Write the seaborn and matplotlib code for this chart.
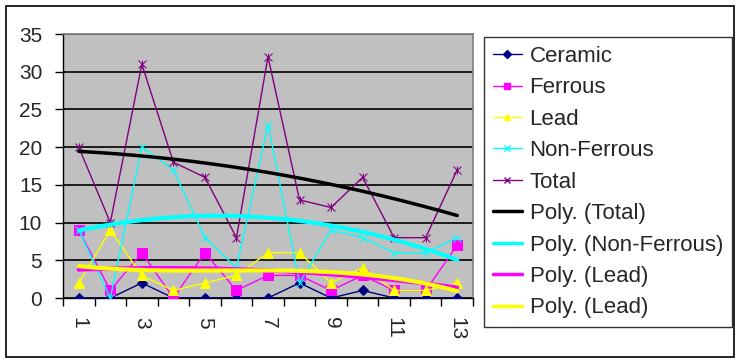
import numpy as np
import pandas as pd
import seaborn as sns
import matplotlib
matplotlib.use("Agg")
import matplotlib.pyplot as plt
from matplotlib.lines import Line2D
from matplotlib.patches import Rectangle

# ---- data ----
categories = list(range(1, 14))
ceramic = [0, 0, 2, 0, 0, 0, 0, 2, 0, 1, 0, 0, 0]
ferrous = [9, 1, 6, 0, 6, 1, 3, 3, 1, 3, 1, 1, 7]
lead = [2, 9, 3, 1, 2, 3, 6, 6, 2, 4, 1, 1, 2]
non_ferrous = [9, 0, 20, 17, 8, 4, 23, 2, 9, 8, 6, 6, 8]
total = [20, 10, 31, 18, 16, 8, 32, 13, 12, 16, 8, 8, 17]
y_ticks = [0, 5, 10, 15, 20, 25, 30, 35]
x_tick_labels = ["1", "3", "5", "7", "9", "11", "13"]

sns.set_theme(style="white")
plt.rcParams["font.family"] = ["Liberation Sans", "DejaVu Sans"]

fig = plt.figure(figsize=(7.4, 3.62), dpi=100)
W, H = 740, 362
ax = fig.add_axes([63 / W, 1 - 298 / H, 410 / W, 264 / H])
ax.set_facecolor("#C0C0C0")

# outer chart border
fig.patches.append(Rectangle((6 / W, 1 - 357 / H), 728 / W, 351 / H, transform=fig.transFigure,
                             fill=False, edgecolor="black", linewidth=1.2))

series = [
    ("Ceramic", ceramic, "#000080", "D", 5),
    ("Ferrous", ferrous, "#FF00FF", "s", 7),
    ("Lead", lead, "#FFFF00", "^", 7),
    ("Non-Ferrous", non_ferrous, "#00FFFF", "x", 6),
    ("Total", total, "#800080", "x", 6),
]

handles = []
for name, vals, col, mk, ms in series:
    d = pd.DataFrame({"x": categories, "y": vals})
    sns.lineplot(data=d, x="x", y="y", ax=ax, color=col, marker=mk, markersize=ms,
                 markeredgecolor=col, markerfacecolor=col, linewidth=1.0, zorder=3)
    if name == "Total":
        sns.lineplot(data=d, x="x", y="y", ax=ax, color=col, marker="|", markersize=ms,
                     markeredgecolor=col, linewidth=0, zorder=3)
    handles.append(Line2D([], [], color=col, marker=mk, markersize=4, markerfacecolor=col,
                          markeredgecolor=col, linewidth=1.0))

# polynomial trendlines
xs = np.linspace(1, 13, 200)
trends = [
    ("Poly. (Total)", total, 2, "black", 2.5),
    ("Poly. (Non-Ferrous)", non_ferrous, 2, "#00FFFF", 3.0),
    ("Poly. (Lead)", lead, 2, "#FF00FF", 3.0),
    ("Poly. (Lead)", lead, 3, "#FFFF00", 3.0),
]
for name, vals, order, col, lw in trends:
    coef = np.polyfit(categories, vals, order)
    d = pd.DataFrame({"x": xs, "y": np.polyval(coef, xs)})
    sns.lineplot(data=d, x="x", y="y", ax=ax, color=col, linewidth=lw, zorder=4)
    handles.append(Line2D([], [], color=col, linewidth=2.5))

labels = [s[0] for s in series] + [t[0] for t in trends]

ax.set_xlim(0.5, 13.5)
ax.set_ylim(0, 35)
ax.set_yticks(y_ticks)
ax.set_yticklabels([str(v) for v in y_ticks])
ax.yaxis.grid(True, color="black", linewidth=1.2)
ax.set_axisbelow(True)
ax.set_xticks([1, 3, 5, 7, 9, 11, 13])
ax.set_xticklabels(x_tick_labels, rotation=-90)
ax.set_xticks(np.arange(0.5, 14, 1), minor=True)
ax.tick_params(axis="x", which="major", length=0, pad=14, labelsize=15)
ax.tick_params(axis="x", which="minor", length=6, width=1, color="black", direction="out", bottom=True)
ax.tick_params(axis="y", length=6, width=1, color="black", direction="out", left=True, pad=9, labelsize=15)
ax.set_xlabel("")
ax.set_ylabel("")
for side in ["top", "right"]:
    ax.spines[side].set_color("#808080")
    ax.spines[side].set_linewidth(1.2)
for side in ["left", "bottom"]:
    ax.spines[side].set_color("black")
    ax.spines[side].set_linewidth(1.0)

leg = fig.legend(handles, labels, loc="upper left", bbox_to_anchor=(484 / W, 1 - 37 / H),
                 frameon=True, fancybox=False, fontsize=16, handlelength=1.3, handletextpad=0.35,
                 labelspacing=0.47, borderpad=0.4, borderaxespad=0)
leg.get_frame().set_edgecolor("black")
leg.get_frame().set_linewidth(1.0)

fig.savefig("out.png", dpi=100)
